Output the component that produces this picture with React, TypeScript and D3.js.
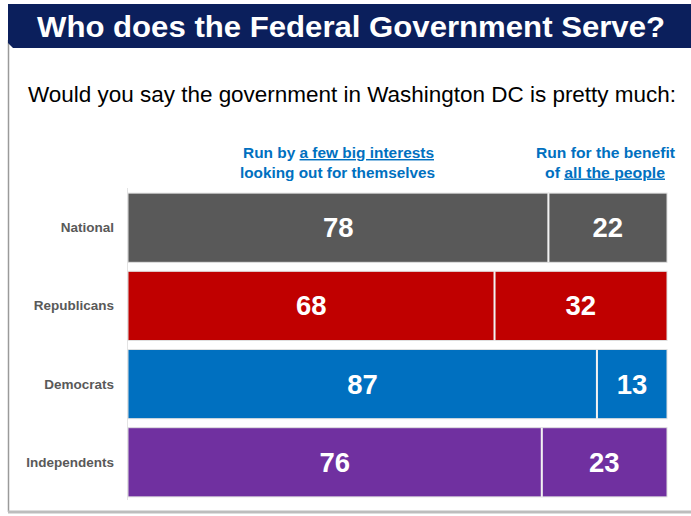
import React from "react";
import * as d3 from "d3";

const categories = ["National", "Republicans", "Democrats", "Independents"];
const fewInterests = [78, 68, 87, 76];
const allPeople = [22, 32, 13, 23];
const colors = ["#595959", "#c00000", "#0070c0", "#7030a0"];

const W = 691;
const H = 516;

export default function App() {
  const x = d3.scaleLinear().domain([0, 1]).range([128, 667]);
  const y = d3.scaleBand<string>().domain(categories).range([190, 500]).paddingInner(0.115).paddingOuter(0.04);
  const font = "'Liberation Sans', Arial, sans-serif";
  const blue = "#0070c0";
  return (
    <svg width={W} height={H} style={{ position: "absolute", left: 0, top: 0 }} fontFamily={font}>
      <rect width={W} height={H} fill="#fff" />
      {/* frame */}
      <line x1={8.5} y1={40} x2={8.5} y2={512} stroke="#9a9a9a" strokeWidth={1.5} />
      <line x1={8} y1={512} x2={691} y2={512} stroke="#bdbdbd" strokeWidth={3} />
      {/* title banner */}
      <path d="M8,4 L691,4 L691,48 L13,48 L8,43 Z" fill="#0b1f5c" />
      <text x={351} y={37} textAnchor="middle" fill="#fff" fontWeight="bold" fontSize={29.5} textLength={628} lengthAdjust="spacingAndGlyphs">
        Who does the Federal Government Serve?
      </text>
      <text x={28} y={102} fill="#000" fontSize={22} textLength={648} lengthAdjust="spacingAndGlyphs">
        Would you say the government in Washington DC is pretty much:
      </text>
      {/* column headers */}
      <text x={338.5} y={158} textAnchor="middle" fill={blue} fontWeight="bold" fontSize={14.5} textLength={191} lengthAdjust="spacingAndGlyphs">
        Run by <tspan textDecoration="underline">a few big interests</tspan>
      </text>
      <text x={337.5} y={177.5} textAnchor="middle" fill={blue} fontWeight="bold" fontSize={14.5} textLength={195} lengthAdjust="spacingAndGlyphs">
        looking out for themselves
      </text>
      <text x={605.5} y={158} textAnchor="middle" fill={blue} fontWeight="bold" fontSize={14.5} textLength={139} lengthAdjust="spacingAndGlyphs">
        Run for the benefit
      </text>
      <text x={605} y={177.5} textAnchor="middle" fill={blue} fontWeight="bold" fontSize={14.5} textLength={120} lengthAdjust="spacingAndGlyphs">
        of <tspan textDecoration="underline">all the people</tspan>
      </text>
      <line x1={127.5} y1={188} x2={127.5} y2={500} stroke="#e3e3e3" strokeWidth={1} />
      {categories.map((c, i) => {
        const total = fewInterests[i] + allPeople[i];
        const y0 = y(c)!;
        const bh = y.bandwidth();
        const xs = x(fewInterests[i] / total);
        return (
          <g key={c}>
            <text x={114} y={y0 + bh / 2 + 4.5} textAnchor="end" fill="#595959" fontWeight="bold" fontSize={13.5}>
              {c}
            </text>
            <rect x={x(0)} y={y0} width={xs - x(0)} height={bh} fill={colors[i]} stroke="#e0e0e0" strokeWidth={1} />
            <rect x={xs} y={y0} width={x(1) - xs} height={bh} fill={colors[i]} stroke="#e0e0e0" strokeWidth={1} />
            <line x1={xs} y1={y0} x2={xs} y2={y0 + bh} stroke="#f2f2f2" strokeWidth={2} />
            <text x={(x(0) + xs) / 2} y={y0 + bh / 2 + 9.5} textAnchor="middle" fill="#fff" fontWeight="bold" fontSize={27.5}>
              {fewInterests[i]}
            </text>
            <text x={(xs + x(1)) / 2} y={y0 + bh / 2 + 9.5} textAnchor="middle" fill="#fff" fontWeight="bold" fontSize={27.5}>
              {allPeople[i]}
            </text>
          </g>
        );
      })}
    </svg>
  );
}
